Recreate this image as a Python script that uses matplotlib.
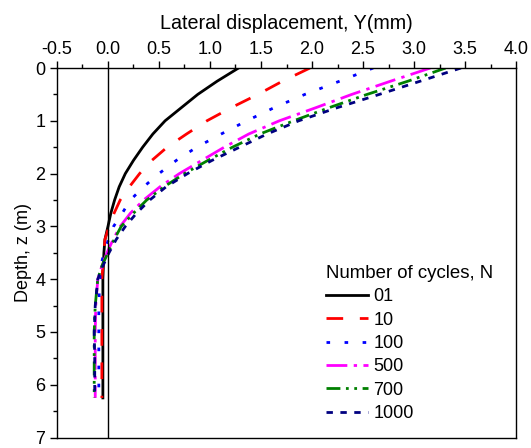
import matplotlib
matplotlib.use("Agg")
import matplotlib.pyplot as plt
from matplotlib.ticker import MultipleLocator

plt.rcParams["font.family"] = ["Liberation Sans", "DejaVu Sans"]

# depth below ground (m)
depth = [0, 0.25, 0.5, 0.75, 1.0, 1.25, 1.5, 1.75, 2.0, 2.25, 2.5, 2.75,
         3.0, 3.25, 3.5, 3.75, 4.0, 4.5, 5.0, 5.5, 6.0, 6.25]

# lateral displacement Y (mm) per number of cycles
y_n01 = [1.28, 1.07, 0.88, 0.72, 0.56, 0.44, 0.34, 0.25, 0.17, 0.11, 0.065, 0.028,
         0.0, -0.03, -0.04, -0.045, -0.05, -0.05, -0.05, -0.05, -0.05, -0.05]
y_n10 = [1.98, 1.71, 1.47, 1.21, 0.97, 0.77, 0.58, 0.43, 0.31, 0.21, 0.12, 0.06,
         0.01, -0.03, -0.04, -0.05, -0.06, -0.06, -0.06, -0.06, -0.06, -0.06]
y_n100 = [2.60, 2.27, 1.93, 1.63, 1.36, 1.11, 0.87, 0.67, 0.50, 0.35, 0.22, 0.14,
          0.055, 0.005, -0.04, -0.07, -0.08, -0.09, -0.09, -0.09, -0.09, -0.09]
y_n500 = [3.16, 2.77, 2.39, 2.04, 1.68, 1.38, 1.14, 0.92, 0.70, 0.51, 0.35, 0.22,
          0.12, 0.05, -0.01, -0.06, -0.10, -0.12, -0.125, -0.125, -0.125, -0.125]
y_n700 = [3.31, 2.94, 2.54, 2.17, 1.82, 1.49, 1.22, 0.98, 0.75, 0.55, 0.38, 0.25,
          0.13, 0.06, 0.0, -0.06, -0.10, -0.125, -0.135, -0.135, -0.135, -0.135]
y_n1000 = [3.46, 3.06, 2.66, 2.25, 1.87, 1.56, 1.29, 1.02, 0.78, 0.57, 0.41, 0.28,
           0.17, 0.08, 0.01, -0.05, -0.10, -0.125, -0.135, -0.13, -0.13, -0.13]

labels = ["01", "10", "100", "500", "700", "1000"]
series = [y_n01, y_n10, y_n100, y_n500, y_n700, y_n1000]
styles = [
    dict(color="black", ls="-"),
    dict(color="#FF0000", ls=(0, (6, 6))),
    dict(color="#0000FF", ls=(0, (1.3, 5.2))),
    dict(color="#FF00FF", ls=(0, (7.5, 2.3, 1.2, 2.3))),
    dict(color="#008000", ls=(0, (5, 2, 1, 2, 1, 2))),
    dict(color="#000080", ls=(0, (2.3, 2.7))),
]

fig = plt.figure(figsize=(5.31, 4.48), dpi=100)
ax = fig.add_axes([0.1073, 0.0234, 0.8645, 0.8248])

for ys, lab, st in zip(series, labels, styles):
    ax.plot(ys, depth, lw=2, label=lab, **st)

ax.axvline(0, color="black", lw=1)

ax.set_xlim(-0.5, 4.0)
ax.set_ylim(7, 0)
ax.xaxis.set_major_locator(MultipleLocator(0.5))
ax.xaxis.set_minor_locator(MultipleLocator(0.25))
ax.yaxis.set_major_locator(MultipleLocator(1))
ax.yaxis.set_minor_locator(MultipleLocator(0.5))
ax.xaxis.tick_top()
ax.xaxis.set_label_position("top")
ax.xaxis.set_major_formatter(plt.FormatStrFormatter("%.1f"))
ax.tick_params(which="both", direction="out", labelsize=13, width=1)
ax.tick_params(which="major", length=5)
ax.tick_params(which="minor", length=3)
ax.tick_params(axis="x", pad=2)
for s in ax.spines.values():
    s.set_linewidth(1)

ax.set_xlabel("Lateral displacement, Y(mm)", fontsize=14.2, labelpad=9)
ax.set_ylabel("Depth, z (m)", fontsize=13, labelpad=2)

leg = ax.legend(title="Number of cycles, N", loc="upper left", frameon=False,
                fontsize=13, title_fontsize=13.4, handlelength=2.33, handletextpad=0.3,
                labelspacing=0.35, borderpad=0, borderaxespad=0, alignment="left",
                bbox_to_anchor=(326 / 531, 1 - 265 / 448), bbox_transform=fig.transFigure)

fig.savefig("out.png", dpi=100)
